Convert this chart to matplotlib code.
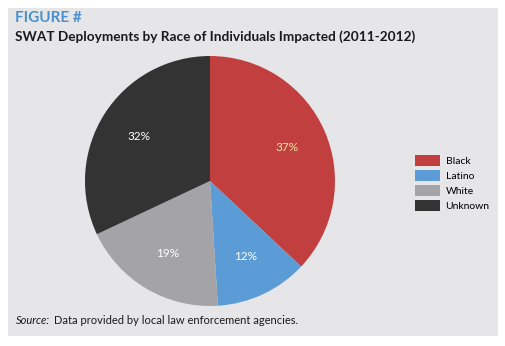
import numpy as np
import matplotlib.pyplot as plt
from matplotlib.patches import Rectangle, Patch

races = ['Black', 'Latino', 'White', 'Unknown']
shares = [37, 12, 19, 32]
colors = ['#c1403f', '#5b9bd6', '#a4a4a6', '#333334']
label_colors = ['#f3e4a6', '#ffffff', '#ffffff', '#ffffff']

W, H = 506, 346
fig = plt.figure(figsize=(W / 100, H / 100), dpi=100)
fig.patch.set_facecolor('white')

# grey card behind everything
bg = fig.add_axes([0, 0, 1, 1], zorder=-1)
bg.add_patch(Rectangle((8 / W, 1 - 336 / H), 490 / W, 328 / H,
                       facecolor='#e6e6e8', edgecolor='none'))
bg.set_xlim(0, 1)
bg.set_ylim(0, 1)
bg.axis('off')

fnt = 'Lato'
fig.text(15 / W, 1 - 18 / H, 'FIGURE #', color='#4a8fcb', fontsize=11,
         fontweight='bold', family=fnt, va='center')
fig.text(15 / W, 1 - 37 / H,
         'SWAT Deployments by Race of Individuals Impacted (2011-2012)',
         color='#1a1a1a', fontsize=9.8, fontweight='bold', family=fnt,
         va='center')
src = fig.text(16 / W, 1 - 321 / H, 'Source:', style='italic', fontsize=8,
               family=fnt, va='center', color='#1a1a1a')
fig.canvas.draw()
bb = src.get_window_extent()
fig.text(bb.x1 / W + 4 / W, 1 - 321 / H,
         'Data provided by local law enforcement agencies.',
         fontsize=8, family=fnt, va='center', color='#1a1a1a')

cx, cy, r = 210, 181, 125
ax = fig.add_axes([(cx - r) / W, 1 - (cy + r) / H, 2 * r / W, 2 * r / H],
                  zorder=1)
ax.pie(shares, colors=colors, startangle=90, counterclock=False,
       radius=1, wedgeprops=dict(linewidth=0))
ax.set_xlim(-1, 1)
ax.set_ylim(-1, 1)
ax.set_aspect('auto')
ax.axis('off')

start = 90
for i, s in enumerate(shares):
    mid = np.deg2rad(start - s * 3.6 / 2)
    start -= s * 3.6
    d = 0.67
    ax.text(d * np.cos(mid), d * np.sin(mid), f'{s}%', color=label_colors[i],
            ha='center', va='center', fontsize=8.5, family=fnt)

handles = [Patch(facecolor=c, edgecolor='none') for c in colors]
fig.legend(handles, races, loc='upper left',
           bbox_to_anchor=(406 / W, 1 - 146 / H), frameon=False,
           prop=dict(family=fnt, size=7.5), handlelength=2.4,
           handleheight=1.2, labelspacing=0.4, handletextpad=0.5)

fig.savefig('out.png', dpi=100, facecolor='white')
